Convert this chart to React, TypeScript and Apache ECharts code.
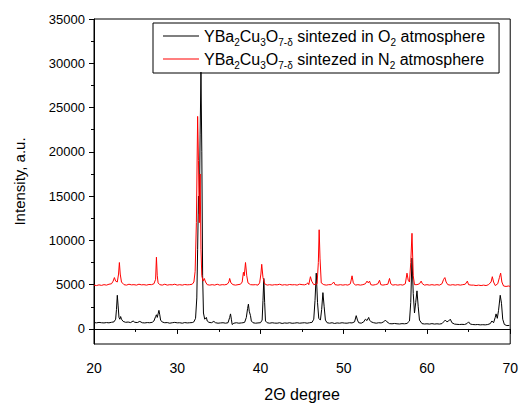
import React, { useEffect, useRef } from "react";
import * as echarts from "echarts";

const seriesNames = [
  "YBa{s|2}Cu{s|3}O{s|7-δ} sintezed in O{s|2} atmosphere",
  "YBa{s|2}Cu{s|3}O{s|7-δ} sintezed in N{s|2} atmosphere",
];

// 2θ (degree), intensity (a.u.) — sample sintered in O2
const o2Data: [number, number][] = [
  [20.0, 720], [20.3, 690], [20.6, 740], [20.9, 700], [21.2, 680], [21.5, 720], [21.8, 690], [22.1, 750],
  [22.4, 800], [22.6, 1100], [22.7, 2200], [22.8, 3800], [22.9, 2600], [23.0, 1300], [23.1, 1100], [23.2, 1400],
  [23.3, 1100], [23.5, 850], [23.8, 750], [24.1, 780], [24.4, 720], [24.7, 900], [24.9, 750], [25.2, 720],
  [25.5, 850], [25.8, 700], [26.1, 680], [26.4, 720], [26.7, 700], [27.0, 750], [27.2, 900], [27.4, 1400],
  [27.5, 1600], [27.6, 1300], [27.7, 1700], [27.8, 2100], [27.9, 1600], [28.0, 1000], [28.2, 780], [28.5, 700],
  [28.8, 720], [29.1, 650], [29.4, 700], [29.7, 740], [30.0, 690], [30.3, 700], [30.6, 650], [30.9, 720],
  [31.2, 680], [31.5, 700], [31.8, 720], [32.0, 800], [32.2, 1200], [32.35, 3500], [32.45, 9000], [32.55, 15000],
  [32.65, 13000], [32.75, 22000], [32.85, 29000], [32.95, 20000], [33.05, 6000], [33.15, 1800], [33.3, 1100], [33.5, 1300],
  [33.6, 900], [33.8, 750], [34.1, 700], [34.4, 850], [34.6, 700], [34.9, 650], [35.2, 680], [35.5, 700],
  [35.8, 650], [36.1, 700], [36.3, 1300], [36.4, 1700], [36.5, 1100], [36.6, 500], [36.8, 650], [37.1, 700],
  [37.4, 650], [37.7, 680], [37.9, 700], [38.1, 750], [38.3, 1300], [38.45, 2300], [38.55, 2800], [38.65, 2000],
  [38.8, 1500], [38.9, 900], [39.1, 700], [39.4, 650], [39.7, 680], [40.0, 700], [40.2, 1000], [40.3, 3200],
  [40.4, 5700], [40.5, 3000], [40.6, 900], [40.8, 700], [41.1, 650], [41.4, 700], [41.7, 660], [42.0, 650],
  [42.3, 700], [42.6, 620], [42.9, 680], [43.2, 650], [43.5, 700], [43.8, 640], [44.1, 660], [44.4, 700],
  [44.7, 650], [45.0, 680], [45.3, 700], [45.6, 650], [45.9, 700], [46.2, 750], [46.4, 1100], [46.55, 3200],
  [46.7, 6300], [46.85, 3000], [47.0, 1200], [47.2, 1000], [47.35, 2200], [47.5, 4100], [47.65, 2500], [47.8, 1000],
  [48.0, 700], [48.3, 650], [48.6, 700], [48.9, 620], [49.2, 680], [49.5, 650], [49.8, 700], [50.1, 660],
  [50.4, 650], [50.7, 700], [51.0, 680], [51.3, 800], [51.5, 1500], [51.65, 1000], [51.8, 700], [52.1, 650],
  [52.4, 800], [52.6, 1100], [52.8, 950], [53.0, 1300], [53.1, 1000], [53.3, 800], [53.6, 700], [53.9, 650],
  [54.2, 700], [54.5, 680], [54.8, 800], [55.0, 1000], [55.2, 800], [55.5, 600], [55.8, 580], [56.1, 620],
  [56.4, 580], [56.7, 560], [57.0, 600], [57.3, 580], [57.6, 620], [57.9, 900], [58.05, 3000], [58.2, 8000],
  [58.35, 4000], [58.5, 1800], [58.65, 3000], [58.8, 4300], [58.95, 2500], [59.1, 1000], [59.4, 600], [59.7, 560],
  [60.0, 580], [60.3, 550], [60.6, 600], [60.9, 550], [61.2, 580], [61.5, 550], [61.8, 600], [62.0, 800],
  [62.2, 1000], [62.4, 800], [62.6, 900], [62.8, 1100], [63.0, 700], [63.3, 550], [63.6, 520], [63.9, 500],
  [64.2, 520], [64.5, 500], [64.8, 600], [65.0, 800], [65.2, 550], [65.5, 500], [65.8, 480], [66.1, 500],
  [66.4, 460], [66.7, 480], [67.0, 460], [67.3, 500], [67.6, 600], [67.8, 900], [68.0, 700], [68.2, 1300],
  [68.3, 1700], [68.45, 1200], [68.6, 2100], [68.8, 3800], [68.95, 2900], [69.1, 1100], [69.3, 500], [69.6, 380],
  [69.9, 400],
];

// 2θ (degree), intensity (a.u.) — sample sintered in N2
const n2Data: [number, number][] = [
  [20.0, 4950], [20.3, 4900], [20.6, 4980], [20.9, 4920], [21.2, 5000], [21.5, 4950], [21.8, 5050], [22.1, 5100],
  [22.3, 5400], [22.45, 5800], [22.6, 5400], [22.8, 5300], [22.95, 6200], [23.05, 7500], [23.15, 6200], [23.3, 5300],
  [23.6, 5000], [23.9, 4950], [24.2, 5050], [24.5, 4980], [24.8, 5000], [25.1, 4950], [25.4, 5050], [25.7, 4980],
  [26.0, 5000], [26.3, 4950], [26.6, 5020], [26.9, 5000], [27.2, 5100], [27.4, 5600], [27.5, 8100], [27.6, 6000],
  [27.7, 5200], [27.9, 5000], [28.2, 4950], [28.5, 5050], [28.8, 4950], [29.1, 5000], [29.4, 4980], [29.7, 5050],
  [30.0, 4950], [30.3, 5000], [30.6, 4950], [30.9, 5020], [31.2, 4980], [31.5, 5000], [31.8, 5050], [32.0, 5300],
  [32.15, 6500], [32.3, 12000], [32.45, 24000], [32.55, 19000], [32.65, 12000], [32.75, 17500], [32.85, 9000], [32.95, 6000],
  [33.1, 5400], [33.25, 5700], [33.4, 5300], [33.6, 5000], [33.9, 4950], [34.2, 5000], [34.5, 4950], [34.8, 5050],
  [35.1, 4950], [35.4, 5000], [35.7, 4980], [36.0, 5050], [36.2, 5300], [36.3, 5700], [36.45, 5200], [36.7, 5000],
  [37.0, 4950], [37.3, 5000], [37.6, 5050], [37.8, 5300], [37.95, 6400], [38.05, 6000], [38.2, 7500], [38.35, 6000],
  [38.5, 5200], [38.8, 5000], [39.1, 4980], [39.4, 5000], [39.7, 4950], [39.9, 5200], [40.05, 6200], [40.15, 7300],
  [40.3, 5800], [40.5, 5100], [40.8, 4950], [41.1, 5000], [41.4, 4950], [41.7, 5000], [42.0, 4980], [42.3, 5050],
  [42.6, 4950], [42.9, 5000], [43.2, 4950], [43.5, 5020], [43.8, 4980], [44.1, 5000], [44.4, 4950], [44.7, 5050],
  [45.0, 5000], [45.3, 4980], [45.5, 5050], [45.7, 5200], [45.8, 5000], [46.0, 5900], [46.15, 5400], [46.4, 5000],
  [46.8, 5100], [46.95, 7500], [47.05, 11200], [47.15, 8000], [47.3, 5200], [47.6, 5000], [47.9, 4950], [48.2, 5000],
  [48.5, 5000], [48.8, 5300], [48.95, 5000], [49.3, 4950], [49.6, 5000], [49.9, 4950], [50.2, 5000], [50.5, 4950],
  [50.8, 5100], [51.0, 6000], [51.15, 5200], [51.4, 4950], [51.7, 5000], [52.0, 4950], [52.3, 5000], [52.6, 5100],
  [52.8, 5400], [52.95, 5200], [53.1, 5400], [53.25, 5000], [53.5, 4950], [53.8, 5000], [54.1, 5100], [54.3, 5500],
  [54.45, 5000], [54.7, 4950], [55.0, 5000], [55.3, 5050], [55.5, 5700], [55.65, 5100], [55.9, 4950], [56.2, 5000],
  [56.5, 4950], [56.8, 5000], [57.1, 4950], [57.4, 5100], [57.6, 6300], [57.75, 5500], [57.9, 5300], [58.05, 7500],
  [58.2, 10800], [58.35, 6000], [58.5, 5000], [58.8, 5000], [59.1, 5100], [59.3, 5400], [59.45, 5100], [59.7, 4950],
  [60.0, 5000], [60.3, 4950], [60.6, 5000], [60.9, 4950], [61.2, 5000], [61.5, 4950], [61.8, 5100], [62.0, 5600],
  [62.15, 5800], [62.3, 5300], [62.5, 5000], [62.8, 4950], [63.1, 5000], [63.4, 4950], [63.7, 5000], [64.0, 4950],
  [64.3, 5000], [64.6, 5050], [64.85, 5400], [65.0, 5000], [65.3, 4950], [65.6, 4950], [65.9, 4900], [66.2, 4950],
  [66.5, 4900], [66.8, 4950], [67.1, 4900], [67.4, 5000], [67.7, 5300], [67.85, 5900], [68.0, 5300], [68.2, 4900],
  [68.5, 5100], [68.7, 5800], [68.85, 6300], [69.0, 5300], [69.2, 4850], [69.5, 4800], [69.8, 4850], [70.0, 4800],
];

const yMajorTicks = [0, 5000, 10000, 15000, 20000, 25000, 30000, 35000];
const yMinorTicks = [2500, 7500, 12500, 17500, 22500, 27500, 32500];

const FONT = "'Liberation Sans', Arial, sans-serif";
const Y_MIN = -1700;
const Y_MAX = 35000;

export default function App() {
  const ref = useRef<HTMLDivElement>(null);
  useEffect(() => {
    if (!ref.current) return;
    const chart = echarts.init(ref.current, undefined, { renderer: "svg" });
    chart.setOption({
      animation: false,
      backgroundColor: "#fff",
      grid: { left: 94, right: 9, top: 19, bottom: 59, show: true, borderColor: "#000", borderWidth: 1 },
      legend: {
        left: 153,
        top: 23,
        orient: "vertical",
        icon: "rect",
        itemWidth: 36,
        itemHeight: 1,
        itemGap: 1,
        padding: [2, 14, 3, 10],
        borderColor: "#000",
        borderWidth: 1,
        formatter: (name: string) => name,
        textStyle: {
          fontFamily: FONT,
          fontSize: 16,
          color: "#000",
          lineHeight: 22,
          rich: {
            s: { fontFamily: FONT, fontSize: 10, color: "#000", verticalAlign: "bottom", lineHeight: 11 },
          },
        },
        data: seriesNames,
      },
      xAxis: {
        type: "value",
        min: 20,
        max: 70,
        interval: 10,
        name: "2Θ degree",
        nameLocation: "middle",
        nameGap: 42,
        nameTextStyle: { fontFamily: FONT, fontSize: 16, color: "#000" },
        axisLine: { lineStyle: { color: "#000", width: 1 } },
        axisTick: { inside: false, length: 5, lineStyle: { color: "#000" } },
        minorTick: { show: true, splitNumber: 2, length: 3, lineStyle: { color: "#000" } },
        axisLabel: { fontFamily: FONT, fontSize: 14, color: "#000", margin: 17 },
        splitLine: { show: false },
      },
      yAxis: [
        {
          type: "value",
          min: Y_MIN,
          max: Y_MAX,
          name: "Intensity, a.u.",
          nameLocation: "middle",
          nameGap: 67,
          nameTextStyle: { fontFamily: FONT, fontSize: 15, color: "#000" },
          axisLine: { lineStyle: { color: "#000", width: 1 } },
          axisTick: { inside: false, length: 5, customValues: yMajorTicks, lineStyle: { color: "#000" } },
          axisLabel: {
            fontFamily: FONT,
            fontSize: 13,
            color: "#000",
            margin: 9,
            customValues: yMajorTicks,
            formatter: (v: number) => String(v),
          },
          splitLine: { show: false },
        },
        {
          type: "value",
          min: Y_MIN,
          max: Y_MAX,
          position: "left",
          axisLine: { show: false },
          axisTick: { inside: false, length: 3, customValues: yMinorTicks, lineStyle: { color: "#000" } },
          axisLabel: { show: false },
          splitLine: { show: false },
        },
      ],
      series: [
        {
          name: seriesNames[0],
          type: "line",
          data: o2Data,
          symbol: "none",
          lineStyle: { color: "#000", width: 1 },
          itemStyle: { color: "#000" },
        },
        {
          name: seriesNames[1],
          type: "line",
          data: n2Data,
          symbol: "none",
          lineStyle: { color: "#ff0000", width: 1 },
          itemStyle: { color: "#ff0000" },
        },
      ],
    });
    return () => chart.dispose();
  }, []);
  return <div ref={ref} style={{ width: 521, height: 407, position: "absolute", left: 0, top: 0 }} />;
}
